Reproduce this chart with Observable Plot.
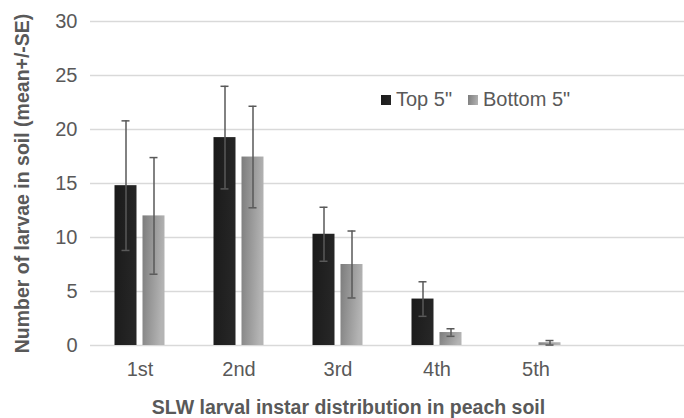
<!DOCTYPE html>
<html><head><meta charset="utf-8">
<script src="https://cdn.jsdelivr.net/npm/d3@7"></script>
<script src="https://cdn.jsdelivr.net/npm/@observablehq/plot@0.6"></script>
<style>
body{margin:0;background:#fff;font-family:"Liberation Sans",Arial,sans-serif;}
#wrap{position:relative;width:684px;height:418px;overflow:hidden;}
.legend{position:absolute;left:381px;top:88px;font-size:20px;color:#595959;display:flex;align-items:center;white-space:nowrap;}
.sw{display:inline-block;width:10px;height:10px;margin-right:5px;}
.item{display:flex;align-items:center;margin-right:16px;}
</style></head><body><div id="wrap"></div>
<script>
const categories = ["1st", "2nd", "3rd", "4th", "5th"];
const seriesNames = ["Top 5\"", "Bottom 5\""];
const topMean = [14.8, 19.25, 10.3, 4.3, 0];
const topSE = [6.0, 4.75, 2.5, 1.6, 0];
const bottomMean = [12.0, 17.45, 7.5, 1.2, 0.25];
const bottomSE = [5.4, 4.7, 3.1, 0.35, 0.21];
const yTicks = [0, 5, 10, 15, 20, 25, 30];
const yTitle = "Number of larvae in soil (mean+/-SE)";
const xTitle = "SLW larval instar distribution in peach soil";

const rows = [];
categories.forEach((c, i) => {
  rows.push({cat: c, series: seriesNames[0], mean: topMean[i], se: topSE[i]});
  rows.push({cat: c, series: seriesNames[1], mean: bottomMean[i], se: bottomSE[i]});
});
const errRows = rows.filter(d => d.se > 0);
const off = {[seriesNames[0]]: -14, [seriesNames[1]]: 14};
const fillOf = {[seriesNames[0]]: "url(#gTop)", [seriesNames[1]]: "url(#gBottom)"};

const textColor = "#595959";
const barInset = 38.5, capInset = 45.5;

function defs() {
  const d = d3.create("svg:defs");
  const g1 = d.append("linearGradient").attr("id", "gTop").attr("x1", 0).attr("y1", 0).attr("x2", 1).attr("y2", 0.2);
  g1.append("stop").attr("offset", "0%").attr("stop-color", "#1a1a1a");
  g1.append("stop").attr("offset", "100%").attr("stop-color", "#262626");
  const g2 = d.append("linearGradient").attr("id", "gBottom").attr("x1", 0).attr("y1", 0).attr("x2", 1).attr("y2", 0.25);
  g2.append("stop").attr("offset", "0%").attr("stop-color", "#7c7c7c");
  g2.append("stop").attr("offset", "100%").attr("stop-color", "#b4b4b4");
  return d.node();
}

const marks = [defs];
seriesNames.forEach(s => {
  const data = rows.filter(d => d.series === s && d.mean > 0);
  const err = errRows.filter(d => d.series === s);
  marks.push(Plot.barY(data, {x: "cat", y: "mean", dx: off[s], insetLeft: barInset, insetRight: barInset, fill: fillOf[s]}));
  marks.push(Plot.ruleX(err, {x: "cat", y1: d => d.mean - d.se, y2: d => d.mean + d.se, dx: off[s], stroke: "#595959", strokeWidth: 1.5}));
  marks.push(Plot.tickY(err, {x: "cat", y: d => d.mean + d.se, dx: off[s], insetLeft: capInset, insetRight: capInset, stroke: "#595959", strokeWidth: 1.5}));
  marks.push(Plot.tickY(err, {x: "cat", y: d => d.mean - d.se, dx: off[s], insetLeft: capInset, insetRight: capInset, stroke: "#595959", strokeWidth: 1.5}));
});
marks.push(Plot.text([yTitle], {text: d => d, frameAnchor: "left", textAnchor: "middle", rotate: -90, dx: -68, fontWeight: "bold", fontSize: 19.5, fill: textColor}));
marks.push(Plot.text([xTitle], {text: d => d, frameAnchor: "bottom-left", textAnchor: "middle", dx: 258, dy: 68, fontWeight: "bold", fontSize: 19.5, fill: textColor}));

const chart = Plot.plot({
  width: 684,
  height: 418,
  marginLeft: 90,
  marginRight: 0,
  marginTop: 21,
  marginBottom: 73,
  style: {fontFamily: "'Liberation Sans', Arial, sans-serif", fontSize: "20px", color: textColor, background: "#fff"},
  x: {domain: [...categories, ""], padding: 0},
  y: {domain: [0, 30]},
  marks: [
    Plot.ruleY(yTicks, {stroke: "#d9d9d9", strokeWidth: 1.5}),
    Plot.axisX({label: null, tickSize: 0, tickPadding: 16, fontSize: 20, fill: textColor}),
    Plot.axisY(yTicks, {label: null, tickSize: 0, tickPadding: 13, fontSize: 20, fill: textColor}),
    ...marks
  ]
});

const wrap = document.getElementById("wrap");
wrap.appendChild(chart);
const legend = document.createElement("div");
legend.className = "legend";
const swatchBg = ["linear-gradient(100deg,#1a1a1a,#262626)", "linear-gradient(100deg,#7c7c7c,#b4b4b4)"];
seriesNames.forEach((s, i) => {
  const it = document.createElement("span");
  it.className = "item";
  const sw = document.createElement("span");
  sw.className = "sw";
  sw.style.background = swatchBg[i];
  it.appendChild(sw);
  it.appendChild(document.createTextNode(s));
  legend.appendChild(it);
});
wrap.appendChild(legend);
</script></body></html>
